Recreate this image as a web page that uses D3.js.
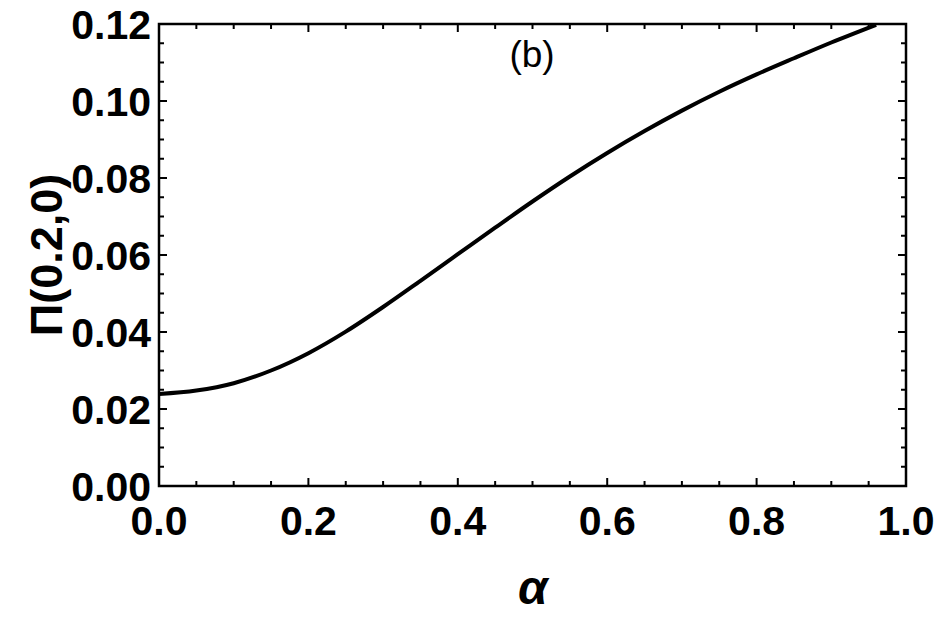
<!DOCTYPE html>
<html>
<head>
<meta charset="utf-8">
<script src="https://cdn.jsdelivr.net/npm/d3@7"></script>
<style>
  body { margin: 0; background: #fff; }
  text { font-family: "Liberation Sans", Arial, sans-serif; fill: #000; }
</style>
</head>
<body>
<svg id="chart" width="938" height="617"></svg>
<script>
// values
var alpha = [0, 0.05, 0.1, 0.15, 0.2, 0.25, 0.3, 0.35, 0.4, 0.45, 0.5,
             0.55, 0.6, 0.65, 0.7, 0.75, 0.8, 0.85, 0.9, 0.96];
var pi02 = [0.0239, 0.0248, 0.0267, 0.0300, 0.0345, 0.0401, 0.0465, 0.0533, 0.0602, 0.0671, 0.0739,
            0.0804, 0.0865, 0.0922, 0.0975, 0.1024, 0.1069, 0.1111, 0.1152, 0.1198];
var xTicks = [0, 0.2, 0.4, 0.6, 0.8, 1.0];
var yTicks = [0, 0.02, 0.04, 0.06, 0.08, 0.10, 0.12];

var svg = d3.select('#chart');
var margin = { left: 159, right: 32, top: 24, bottom: 131 };
var W = 938, H = 617;

var x = d3.scaleLinear().domain([0, 1]).range([margin.left, W - margin.right]);
var y = d3.scaleLinear().domain([0, 0.12]).range([H - margin.bottom, margin.top]);

var major = 8, minor = 5;
var xMinor = d3.range(0, 1.0001, 0.05);
var yMinor = d3.range(0, 0.12001, 0.005);

function isMajor(v, step) {
  return Math.abs(v / step - Math.round(v / step)) < 1e-6;
}

var ticks = svg.append('g').attr('stroke', '#000').attr('stroke-width', 2);

// bottom & top
xMinor.forEach(function(v) {
  var len = isMajor(v, 0.2) ? major : minor;
  ticks.append('line').attr('x1', x(v)).attr('x2', x(v))
    .attr('y1', y(0)).attr('y2', y(0) - len);
  ticks.append('line').attr('x1', x(v)).attr('x2', x(v))
    .attr('y1', y(0.12)).attr('y2', y(0.12) + len);
});
// left & right
yMinor.forEach(function(v) {
  var len = isMajor(v, 0.02) ? major : minor;
  ticks.append('line').attr('y1', y(v)).attr('y2', y(v))
    .attr('x1', x(0)).attr('x2', x(0) + len);
  ticks.append('line').attr('y1', y(v)).attr('y2', y(v))
    .attr('x1', x(1)).attr('x2', x(1) - len);
});

svg.append('rect')
  .attr('x', x(0)).attr('y', y(0.12))
  .attr('width', x(1) - x(0)).attr('height', y(0) - y(0.12))
  .attr('fill', 'none').attr('stroke', '#000').attr('stroke-width', 2.5);

var line = d3.line()
  .x(function(d, i) { return x(alpha[i]); })
  .y(function(d) { return y(d); })
  .curve(d3.curveMonotoneX);

svg.append('path')
  .datum(pi02)
  .attr('d', line)
  .attr('fill', 'none')
  .attr('stroke', '#000')
  .attr('stroke-width', 4);

svg.selectAll('.xlab')
  .data(xTicks).enter()
  .append('text')
  .attr('x', function(d) { return x(d); })
  .attr('y', 535)
  .attr('text-anchor', 'middle')
  .attr('font-size', 41)
  .attr('font-weight', 'bold')
  .text(function(d) { return d.toFixed(1); });

svg.selectAll('.ylab')
  .data(yTicks).enter()
  .append('text')
  .attr('x', 151)
  .attr('y', function(d) { return y(d) + 15; })
  .attr('text-anchor', 'end')
  .attr('font-size', 41)
  .attr('font-weight', 'bold')
  .text(function(d) { return d.toFixed(2); });

svg.append('text')
  .attr('transform', 'translate(62,' + ((y(0) + y(0.12)) / 2) + ') rotate(-90)')
  .attr('text-anchor', 'middle')
  .attr('font-size', 45)
  .attr('font-weight', 'bold')
  .text('Π(0.2,0)');

svg.append('text')
  .attr('x', 533)
  .attr('y', 604)
  .attr('text-anchor', 'middle')
  .attr('font-size', 48)
  .attr('font-weight', 'bold')
  .attr('font-style', 'italic')
  .text('α');

svg.append('text')
  .attr('x', 532)
  .attr('y', 67)
  .attr('text-anchor', 'middle')
  .attr('font-size', 37)
  .text('(b)');
</script>
</body>
</html>
